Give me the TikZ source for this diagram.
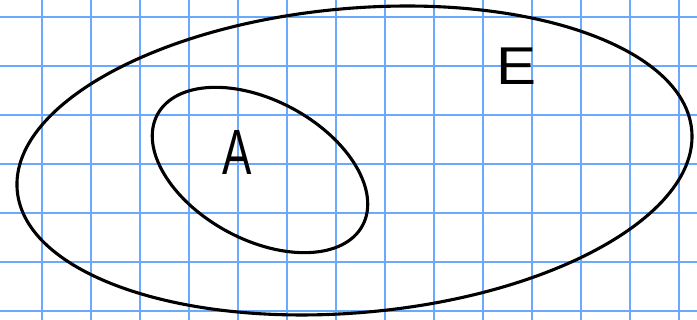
\documentclass[tikz,border=0pt]{standalone}
\usepackage{graphicx}
\usepackage{fontspec}
\setmainfont{Liberation Sans}
\definecolor{gridblue}{RGB}{105,170,255}
\tikzset{
  gridline/.style={draw=gridblue, line width=2.2pt},
  setline/.style={draw=black, line width=3.1pt},
  handletter/.style={inner sep=0pt, font=\fontsize{40}{40}\selectfont},
}
\begin{document}
\begin{tikzpicture}[x=1pt, y=-1pt]
\useasboundingbox (0,0) rectangle (697,320);
\fill[white] (0,0) rectangle (697,320);
% grid
\foreach \k in {0,...,13} {
  \draw[gridline] ({42+49*\k},0) -- ({42+49*\k},320);
}
\foreach \k in {0,...,6} {
  \draw[gridline] (0,{17+49*\k}) -- (697,{17+49*\k});
}
% sets
\coordinate (Ec) at (354.5,160.5);
\coordinate (Ac) at (260,170);
\draw[setline, rotate around={5.1:(Ec)}] (Ec) ellipse [x radius=338.6pt, y radius=152.1pt];
\draw[setline, rotate around={-28.5:(Ac)}] (Ac) ellipse [x radius=116.6pt, y radius=69.6pt];
% labels
\node[handletter] (labA) at (237,152) {\scalebox{1.1}[1.6]{A}};
\node[handletter] (labE) at (517,66) {\scalebox{1.5}[1.33]{E}};
\end{tikzpicture}
\end{document}
